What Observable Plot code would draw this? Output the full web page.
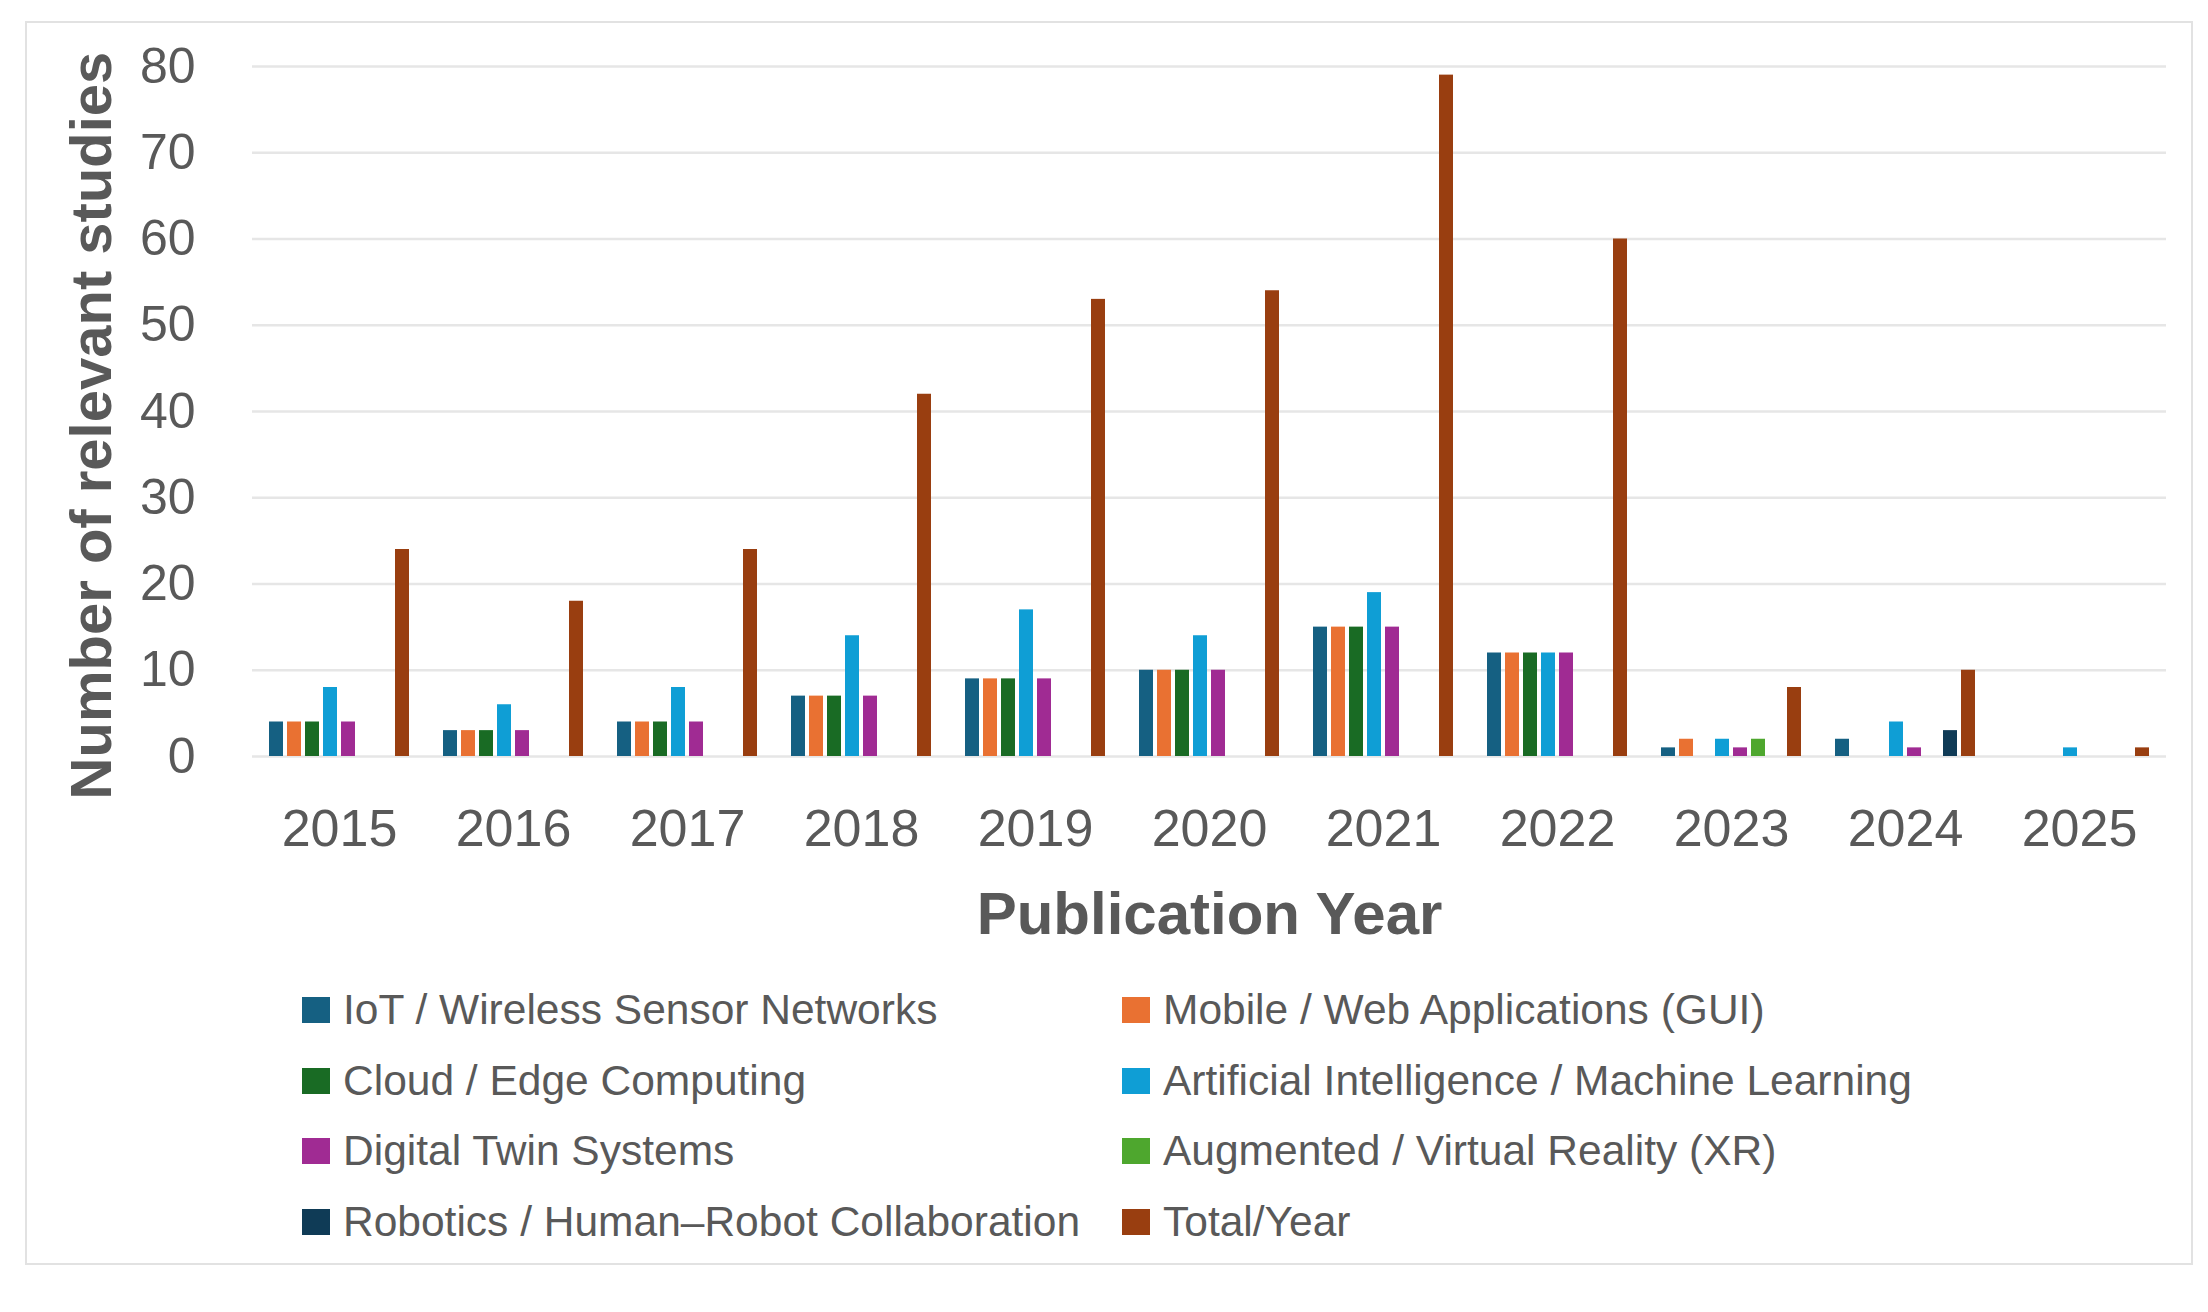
<!DOCTYPE html>
<html>
<head>
<meta charset="utf-8">
<script src="https://cdn.jsdelivr.net/npm/d3@7"></script>
<script src="https://cdn.jsdelivr.net/npm/@observablehq/plot@0.6"></script>
<style>
  html, body { margin: 0; padding: 0; background: #ffffff; }
  body { width: 2208px; height: 1312px; position: relative; overflow: hidden;
         font-family: "Liberation Sans", Arial, sans-serif; }
  #frame { position: absolute; left: 25px; top: 21px; width: 2164px; height: 1240px;
           border: 2px solid #e2e2e2; box-sizing: content-box; pointer-events: none; }
  #chart { position: absolute; left: 0; top: 0; }
  #legend { position: absolute; left: 302px; top: 975px;
            display: grid; grid-template-columns: 820px 900px; grid-auto-rows: 70.6px;
            align-items: center; }
  .item { display: flex; align-items: center; font-size: 42.5px; color: #595959; white-space: nowrap; }
  .sw { width: 28px; height: 26px; margin-right: 13px; flex: none; }
</style>
</head>
<body>
<div id="frame"></div>
<div id="chart"></div>
<div id="legend"></div>
<script>
// ---- data ----
const years = ["2015","2016","2017","2018","2019","2020","2021","2022","2023","2024","2025"];
const categories = [
  "IoT / Wireless Sensor Networks",
  "Mobile / Web Applications (GUI)",
  "Cloud / Edge Computing",
  "Artificial Intelligence / Machine Learning",
  "Digital Twin Systems",
  "Augmented / Virtual Reality (XR)",
  "Robotics / Human\u2013Robot Collaboration",
  "Total/Year"
];
const colors = ["#156082","#E97132","#196B24","#0F9ED5","#A02B93","#4EA72E","#0F3B56","#993E10"];

const iot      = [4, 3, 4, 7, 9, 10, 15, 12, 1, 2, 0];
const mobile   = [4, 3, 4, 7, 9, 10, 15, 12, 2, 0, 0];
const cloud    = [4, 3, 4, 7, 9, 10, 15, 12, 0, 0, 0];
const ai       = [8, 6, 8, 14, 17, 14, 19, 12, 2, 4, 1];
const twin     = [4, 3, 4, 7, 9, 10, 15, 12, 1, 1, 0];
const xr       = [0, 0, 0, 0, 0, 0, 0, 0, 2, 0, 0];
const robotics = [0, 0, 0, 0, 0, 0, 0, 0, 0, 3, 0];
const total    = [24, 18, 24, 42, 53, 54, 79, 60, 8, 10, 1];

const yTicks = [0, 10, 20, 30, 40, 50, 60, 70, 80];
const xTitle = "Publication Year";
const yTitle = "Number of relevant studies";

const series = [iot, mobile, cloud, ai, twin, xr, robotics, total];
const table = [];
years.forEach((yr, i) => {
  categories.forEach((c, j) => {
    table.push({year: yr, category: c, value: series[j][i]});
  });
});

const textColor = "#595959";
const font = "'Liberation Sans', Arial, sans-serif";

const chart = Plot.plot({
  width: 2208,
  height: 960,
  marginLeft: 250,
  marginRight: 40,
  marginTop: 66,
  marginBottom: 204,
  style: {fontFamily: font, background: "transparent", overflow: "visible"},
  fx: {domain: years, padding: 0, axis: null},
  x: {domain: categories, paddingInner: 0.21, paddingOuter: 0.87, axis: null},
  y: {domain: [0, 80], axis: null},
  color: {domain: categories, range: colors},
  marks: [
    Plot.gridY(yTicks, {stroke: "#e6e6e6", strokeOpacity: 1, strokeWidth: 2.5}),
    Plot.barY(table.filter(d => d.value > 0), {fx: "year", x: "category", y: "value", fill: "category"}),
    Plot.axisY(yTicks, {tickSize: 0, tickPadding: 57, fontSize: 50, fill: textColor, label: null}),
    Plot.axisFx({anchor: "bottom", tickSize: 0, tickPadding: 53, fontSize: 52, fill: textColor, label: null}),
    Plot.text([xTitle], {fx: ["2020"], frameAnchor: "bottom", dy: 177, lineAnchor: "bottom",
      fontSize: 60, fontWeight: "bold", fill: textColor, letterSpacing: "-1.5px"}),
    Plot.text([yTitle], {fx: ["2015"], frameAnchor: "left", rotate: -90, textAnchor: "middle",
      lineAnchor: "bottom", dx: -142, dy: 14, fontSize: 58, fontWeight: "bold", fill: textColor})
  ]
});
document.getElementById("chart").appendChild(chart);

// ---- legend ----
const order = [0, 1, 2, 3, 4, 5, 6, 7];
const legend = document.getElementById("legend");
order.forEach(i => {
  const item = document.createElement("div");
  item.className = "item";
  const sw = document.createElement("span");
  sw.className = "sw";
  sw.style.background = colors[i];
  const t = document.createElement("span");
  t.textContent = categories[i];
  item.appendChild(sw);
  item.appendChild(t);
  legend.appendChild(item);
});
</script>
</body>
</html>
